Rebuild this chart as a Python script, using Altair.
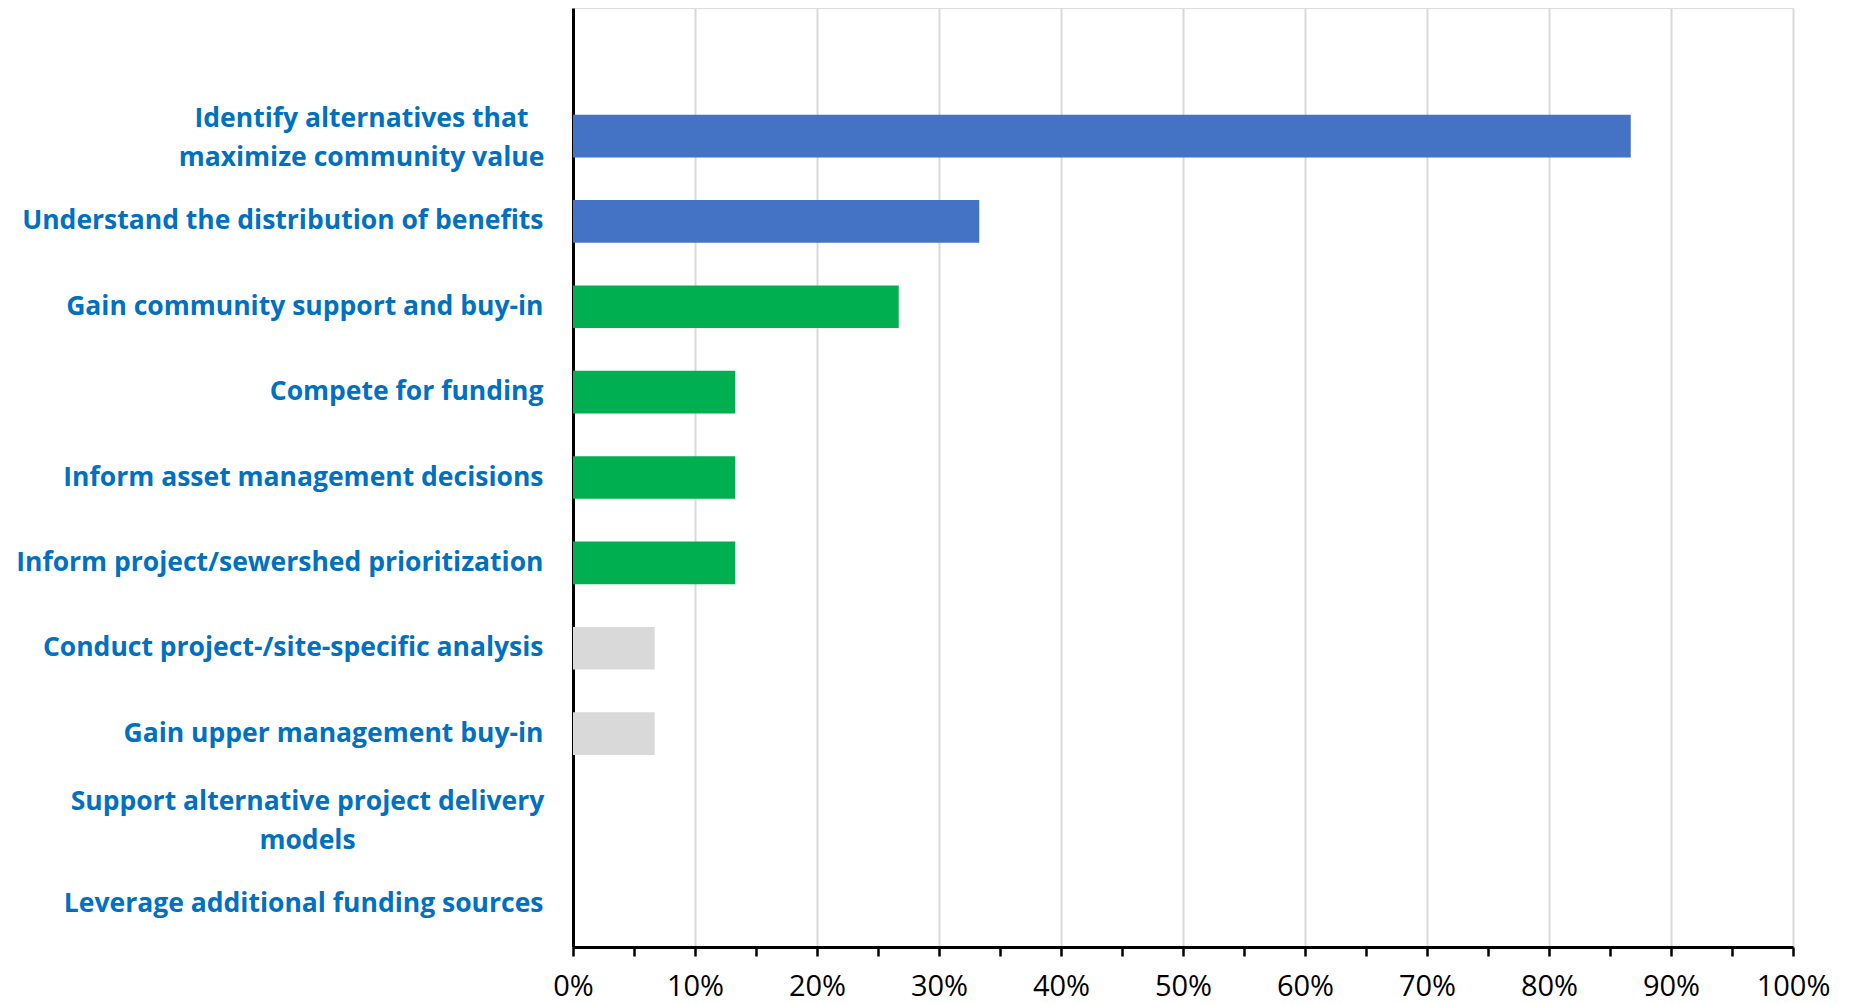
import altair as alt
import pandas as pd

categories = [
    "Identify alternatives that|maximize community value",
    "Understand the distribution of benefits",
    "Gain community support and buy-in",
    "Compete for funding",
    "Inform asset management decisions",
    "Inform project/sewershed prioritization",
    "Conduct project-/site-specific analysis",
    "Gain upper management buy-in",
    "Support alternative project delivery|models",
    "Leverage additional funding sources",
]
values = [0.867, 0.333, 0.267, 0.133, 0.133, 0.133, 0.067, 0.067, 0.0, 0.0]
groups = ["high", "high", "mid", "mid", "mid", "mid", "low", "low", "low", "low"]

group_domain = ["high", "mid", "low"]
group_colors = ["#4472C4", "#00B050", "#D9D9D9"]

tick_values = [i / 20 for i in range(21)]

df = pd.DataFrame({"category": categories, "value": values, "group": groups})
y_domain = [" "] + categories

chart = (
    alt.Chart(df)
    .mark_bar()
    .encode(
        y=alt.Y(
            "category:N",
            sort=y_domain,
            scale=alt.Scale(domain=y_domain, paddingInner=0.5, paddingOuter=0.25),
            axis=alt.Axis(
                title=None,
                ticks=False,
                domainColor="#000000",
                domainWidth=3,
                labelColor="#0070C0",
                labelFont="Open Sans",
                labelFontSize=26.5,
                labelFontWeight="bold",
                labelPadding={
                    "condition": [
                        {"test": "indexof(datum.value, 'Identify') == 0", "value": 212},
                        {"test": "indexof(datum.value, 'Support') == 0", "value": 266},
                    ],
                    "value": 30,
                },
                labelAlign={"condition": {"test": "indexof(datum.value, '|') >= 0", "value": "center"}, "value": "right"},
                labelLimit=700,
                labelLineHeight=39,
                labelExpr="split(datum.label, '|')",
                labelOffset={"condition": {"test": "indexof(datum.value, '|') >= 0", "value": -17}, "value": 0},
            ),
        ),
        x=alt.X(
            "value:Q",
            scale=alt.Scale(domain=[0, 1], nice=False),
            axis=alt.Axis(
                title=None,
                values=tick_values,
                labelExpr="round(datum.value*100) % 10 == 0 ? round(datum.value*100) + '%' : ''",
                labelColor="#000000",
                labelFont="Open Sans",
                labelFontSize=29,
                labelPadding=16,
                labelFlush=False,
                labelOverlap=False,
                domainColor="#000000",
                domainWidth=3,
                tickColor="#000000",
                tickWidth=2.5,
                tickSize=9,
                gridColor="#D9D9D9",
                gridWidth=2,
                gridOpacity={"condition": {"test": "round(datum.value*100) % 10 == 0", "value": 1}, "value": 0},
            ),
        ),
        color=alt.Color(
            "group:N",
            scale=alt.Scale(domain=group_domain, range=group_colors),
            legend=None,
        ),
    )
    .properties(
        width=1220,
        height=939,
        autosize=alt.AutoSizeParams(type="none"),
        padding={"left": 573, "top": 8, "right": 59, "bottom": 56},
    )
    .configure_view(stroke=None)
    .configure(background="white")
)

chart.save("out.html", embed_options={"renderer": "svg", "actions": False})
